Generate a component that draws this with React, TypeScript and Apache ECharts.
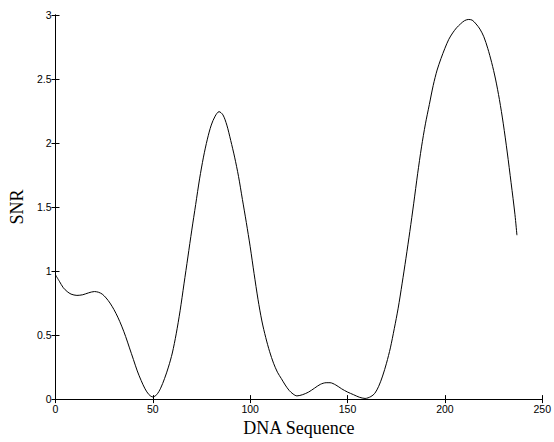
import React, { useEffect, useRef } from "react";
import * as echarts from "echarts";

const xValues = [0, 2, 4, 6, 8, 11, 14, 17, 20, 22, 24, 26, 28, 30, 32, 34, 36, 38, 40, 42, 44, 46, 48, 50, 52, 54, 56, 58, 60, 62, 64, 66, 68, 70, 72, 74, 76, 78, 80, 82, 84, 86, 88, 90, 92, 94, 96, 98, 100, 102, 104, 106, 108, 110, 112, 114, 116, 118, 120, 122, 124, 127, 130, 133, 136, 139, 141, 144, 147, 150, 153, 156, 159, 162, 164, 166, 168, 170, 172, 174, 176, 178, 180, 182, 184, 186, 188, 190, 192, 194, 196, 198, 200, 202, 204, 206, 208, 210, 212, 214, 216, 218, 220, 222, 224, 226, 228, 230, 232, 234, 236, 237];
const snrValues = [0.97, 0.92, 0.87, 0.84, 0.82, 0.81, 0.815, 0.83, 0.84, 0.835, 0.82, 0.79, 0.75, 0.7, 0.64, 0.57, 0.49, 0.4, 0.31, 0.22, 0.145, 0.08, 0.035, 0.017, 0.035, 0.085, 0.16, 0.25, 0.36, 0.51, 0.69, 0.9, 1.11, 1.32, 1.52, 1.72, 1.89, 2.03, 2.14, 2.21, 2.245, 2.22, 2.14, 2.02, 1.89, 1.74, 1.56, 1.38, 1.19, 0.98, 0.78, 0.61, 0.48, 0.37, 0.28, 0.21, 0.16, 0.11, 0.068, 0.04, 0.025, 0.035, 0.055, 0.085, 0.115, 0.128, 0.128, 0.11, 0.08, 0.055, 0.035, 0.015, 0.005, 0.02, 0.045, 0.1, 0.18, 0.28, 0.4, 0.55, 0.71, 0.9, 1.1, 1.31, 1.53, 1.76, 1.97, 2.15, 2.3, 2.45, 2.57, 2.66, 2.74, 2.81, 2.86, 2.9, 2.93, 2.955, 2.965, 2.96, 2.93, 2.89, 2.83, 2.74, 2.63, 2.5, 2.34, 2.15, 1.93, 1.69, 1.44, 1.28];

const xTitle = "DNA Sequence";
const yTitle = "SNR";

export default function App() {
  const ref = useRef<HTMLDivElement>(null);
  useEffect(() => {
    if (!ref.current) return;
    const chart = echarts.init(ref.current, null, { renderer: "svg" });
    const data = xValues.map((x, i) => [x, snrValues[i]]);
    const labelStyle = { color: "#000", fontFamily: "Liberation Sans, Arial, sans-serif", fontSize: 10.5 };
    const titleStyle = { color: "#000", fontFamily: "Liberation Serif, Times New Roman, serif", fontSize: 18 };
    const lineStyle = { color: "#000", width: 1 };
    chart.setOption({
      animation: false,
      backgroundColor: "#fff",
      grid: { left: 52, top: 15, right: 6, bottom: 36.5, containLabel: false },
      xAxis: [
        {
          type: "value", min: 0, max: 250, interval: 50, position: "bottom",
          name: xTitle, nameLocation: "middle", nameGap: 19, nameTextStyle: titleStyle,
          axisLine: { show: true, lineStyle }, axisTick: { show: true, inside: true, length: 4, lineStyle },
          axisLabel: { ...labelStyle, margin: 4 }, splitLine: { show: false },
        },
        {
          type: "value", min: 0, max: 250, interval: 50, position: "top",
          axisLine: { show: true, lineStyle }, axisTick: { show: true, inside: true, length: 4, lineStyle },
          axisLabel: { show: false }, splitLine: { show: false },
        },
      ],
      yAxis: [
        {
          type: "value", min: 0, max: 3, interval: 0.5, position: "left",
          name: yTitle, nameLocation: "middle", nameGap: 25, nameTextStyle: titleStyle,
          axisLine: { show: true, lineStyle }, axisTick: { show: true, inside: true, length: 4, lineStyle },
          axisLabel: { ...labelStyle, margin: 4 }, splitLine: { show: false },
        },
        {
          type: "value", min: 0, max: 3, interval: 0.5, position: "right",
          axisLine: { show: true, lineStyle }, axisTick: { show: true, inside: true, length: 4, lineStyle },
          axisLabel: { show: false }, splitLine: { show: false },
        },
      ],
      series: [
        {
          type: "line", data, smooth: 0.3, showSymbol: false, symbol: "none",
          lineStyle: { color: "#000", width: 1 }, xAxisIndex: 0, yAxisIndex: 0,
        },
      ],
    });
    return () => chart.dispose();
  }, []);
  return <div ref={ref} style={{ width: 554, height: 442, position: "absolute", left: 0, top: 0 }} />;
}
